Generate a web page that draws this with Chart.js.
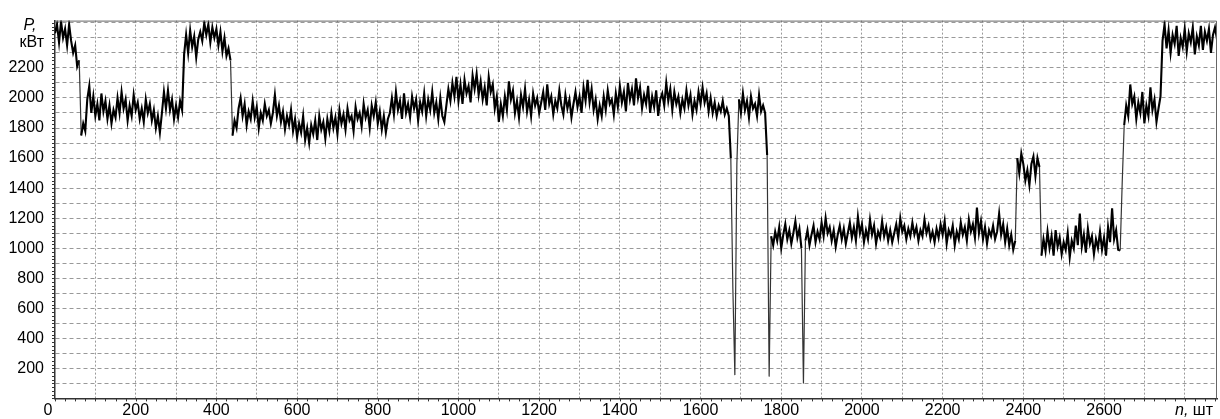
<!DOCTYPE html>
<html><head><meta charset="utf-8">
<script src="https://cdn.jsdelivr.net/npm/chart.js@4.4.1/dist/chart.umd.min.js"></script>
<style>html,body{margin:0;padding:0;background:#fff;}canvas{display:block;}</style>
</head><body>
<canvas id="c" width="1220" height="419"></canvas>
<script>
const STEP = 5;
const startA = 0;
const pA = [2430,2490,2370,2510,2400,2460,2350,2490,2380,2300,2350,2210,2250];
const startB = 65;
const pB = [1750,1830,1780,1990,2080,1900,2010,1880,1960,1850,
            2030,1910,1980,1860,1950,1830,1920,1870,2000,1900,
            2040,1930,1990,1850,1950,1880,2020,1920,1970,1860,
            1930,1840,1990,1900,1960,1850,1920,1800,1880,1770,
            1900,2040,1930,2050,1920,1990,1860,1950,1870,1980,
            1920];
const startC = 320;
const pC = [2290,2420,2300,2450,2340,2410,2270,2390,2440,2380,
            2500,2420,2490,2370,2470,2400,2460,2350,2440,2310,
            2400,2280,2330,2250];
const startD = 440;
const pD = [1750,1850,1800,1930,2000,1880,1960,1820,1910,1860,
            1980,1870,1940,1800,1900,1850,1960,1880,1920,1830,
            1900,2020,1880,1950,1840,1910,1790,1880,1820,1920,
            1780,1860,1740,1830,1770,1880,1720,1800,1700,1820,
            1760,1850,1720,1880,1790,1840,1730,1860,1780,1900,
            1800,1870,1760,1920,1830,1890,1790,1930,1850,1880,
            1780,1940,1860,1900,1810,1960,1870,1920,1800,1950,
            1880,1970,1830,1910,1790,1880,1770,1860,1900,2000,
            1890,2040,1920,1980,1860,2030,1900,1960,1870,2010,
            1930,1990,1850,1970,1910,2030,1880,1990,1920,2040,
            1900,1970,1860,2000,1880,1840,1950,2060,1980,2100,
            2010,2140,1980,2090,1960,2120,2030,2080,1970,2150,
            2060,2160,2020,2110,1990,2070,1950,2140,2040,2090,
            1930,2010,1840];
const startE = 1105;
const pE = [1960,1880,2010,1920,2110,1990,2050,1900,1980,1870,
            2020,1940,2060,1910,1990,1880,2030,1950,2000,1900,
            1970,2040,1920,2090,1960,2010,1890,1980,1930,2050,
            1950,1890,2020,1930,1990,1870,1960,2040,1940,2010,
            1900,2070,1980,2120,1970,2060,1920,1990,1860,1950,
            1880,2010,1920,2050,1960,1990,1890,2030,1940,2080,
            1970,2040,1910,2100,1990,2060,1950,2130,2000,2070,
            1930,2020,1960,2080,1900,2010,1940,2050,1880,1990,
            2030,1950,2100,1980,2060,1920,2040,1960,2010,1900,
            1990,1930,2050,1950,2020,1890,1980,1920,2040,1960,
            2070,1970,2030,1910,2000,1900,1970,1880,1950,1910,
            1980,1890,1930,1880];
const startDrop1 = 1675;
const pDrop1 = [1600,740,155,1560];
const startF = 1695;
const pF = [1990,1900,2030,1920,1980,1870,2010,1930,1960,1880,2020,1910,1950,1900];
const startDrop2 = 1765;
const pDrop2 = [1620,145];
const startG = 1775;
const pG = [1080,1020,1110,1050,1140,1000,1090,1160,1060,1120,
            1030,1100,1180,1070,1130,1000,100,1050,1120,1020,
            1090,1150,1040,1110,1060,1170,1080,1200,1100,1140,
            1050,1120,1010,1090,1150,1060,1130,1030,1100,1170,
            1070,1140,1050,1210,1100,1160,1040,1120,1060,1190,
            1090,1150,1030,1110,1070,1180,1080,1140,1050,1120,
            1040,1100,1160,1070,1200,1110,1150,1060,1130,1080,
            1170,1090,1140,1050,1120,1080,1190,1100,1150,1060,
            1110,1040,1130,1070,1160,1090,1180,1030,1120,1080,
            1150,1020,1110,1060,1170,1090,1140,1050,1190,1110,
            1160,1070,1270,1100,1180,1060,1140,1030,1120,1080,
            1150,1060,1110,1230,1090,1160,1040,1130,1020,1090,
            990,1050];
const startH = 2385;
const pH = [1600,1500,1630,1560,1450,1520,1420,1560,1610,1480,1600,1540];
const startI = 2445;
const pI = [950,1060,980,1110,1000,1080,950,1120,1010,1070,
            960,1040,990,1100,940,1050,1000,1150,1020,1230,
            1010,1090,970,1130,1030,1080,960,1060,1000,1110,
            990,1070,950,1140,1040,1265,1060,1120,990,985];
const startJ = 2645;
const pJ = [1430,1820,1950,1880,2090,1960,2010,1860,1970,1900,
            2040,1830,1950,1880,2070,1920,1990,1840,1930,2010];
const startK = 2745;
const pK = [2380,2490,2330,2450,2300,2420,2360,2480,2280,2400,
            2340,2460,2310,2430,2370,2470,2290,2410,2350,2480,
            2320,2440,2380,2460,2300,2420,2470,2390];

// ---- axis ranges & tick labels ----
const xMax = 2880;
const yMax = 2515;
const xTickLabels = [200,400,600,800,1000,1200,1400,1600,1800,2000,2200,2400,2600];
const yTickLabels = [200,400,600,800,1000,1200,1400,1600,1800,2000,2200];
const yTitle = ['P,', 'кВт'];
const xTitle = ['n,', ' шт'];

const segments = [[startA,pA],[startB,pB],[startC,pC],[startD,pD],[startE,pE],
  [startDrop1,pDrop1],[startF,pF],[startDrop2,pDrop2],[startG,pG],[startH,pH],
  [startI,pI],[startJ,pJ],[startK,pK]];
const points = [];
segments.forEach(([s, arr]) => arr.forEach((v, i) => points.push({x: s + STEP * i, y: v})));

const FONT = 'Liberation Sans';

const decor = {
  id: 'decor',
  afterDraw(chart) {
    const ctx = chart.ctx;
    const {left, right, top, bottom} = chart.chartArea;
    const xs = chart.scales.x, ys = chart.scales.y;
    ctx.save();
    // top & right frame
    ctx.strokeStyle = '#666'; ctx.lineWidth = 1;
    ctx.beginPath();
    ctx.moveTo(left, top + 0.5); ctx.lineTo(right - 0.5, top + 0.5); ctx.lineTo(right - 0.5, bottom);
    ctx.stroke();
    // minor ticks
    ctx.strokeStyle = '#333';
    ctx.beginPath();
    for (let v = 0; v <= xMax; v += 25) {
      const px = Math.round(xs.getPixelForValue(v)) + 0.5;
      ctx.moveTo(px, bottom); ctx.lineTo(px, bottom + 3);
    }
    for (let v = 0; v <= yMax; v += 25) {
      const py = Math.round(ys.getPixelForValue(v)) + 0.5;
      ctx.moveTo(left - 3, py); ctx.lineTo(left, py);
    }
    ctx.stroke();
    // captions
    ctx.fillStyle = '#000';
    ctx.textBaseline = 'middle';
    ctx.font = 'italic 16px "' + FONT + '"';
    ctx.textAlign = 'center';
    ctx.fillText(yTitle[0], left - 25, ys.getPixelForValue(2480));
    ctx.font = '16px "' + FONT + '"';
    ctx.textAlign = 'right';
    ctx.fillText(yTitle[1], left - 11, ys.getPixelForValue(2370));
    // origin label
    ctx.textAlign = 'center';
    ctx.fillText('0', xs.getPixelForValue(0) - 7, bottom + 12);
    // x title
    ctx.textAlign = 'right';
    const xr = right - 4;
    ctx.fillText(xTitle[1], xr, bottom + 12);
    const w = ctx.measureText(xTitle[1]).width;
    ctx.font = 'italic 16px "' + FONT + '"';
    ctx.fillText(xTitle[0], xr - w, bottom + 12);
    ctx.restore();
  }
};

const isJump = c => Math.abs(c.p0.parsed.y - c.p1.parsed.y) > 380;

new Chart(document.getElementById('c'), {
  type: 'line',
  data: { datasets: [{ data: points, borderColor: '#000', borderWidth: 2.1, pointRadius: 0, tension: 0, fill: false,
    segment: {
      borderWidth: c => isJump(c) ? 1.2 : undefined,
      borderColor: c => isJump(c) ? '#333' : undefined
    } }] },
  options: {
    responsive: false, animation: false, devicePixelRatio: 1, parsing: false,
    layout: { padding: { left: 0, right: 3, top: 13, bottom: 0 } },
    plugins: { legend: { display: false }, tooltip: { enabled: false } },
    scales: {
      x: {
        type: 'linear', min: 0, max: xMax,
        afterFit(s) { s.height = 20; },
        ticks: { stepSize: 100, includeBounds: false, autoSkip: false, maxRotation: 0, padding: 3, color: '#000',
          font: { family: FONT, size: 16 },
          callback: v => xTickLabels.includes(v) ? String(v) : '' },
        grid: { drawTicks: false, lineWidth: 1,
          color: c => (c.tick && c.tick.value > 0 && c.tick.value % 100 === 0) ? '#999' : 'rgba(0,0,0,0)' },
        border: { color: '#333', width: 1.5, dash: [2, 2] }
      },
      y: {
        type: 'linear', min: 0, max: yMax,
        afterFit(s) { s.width = 55; },
        ticks: { stepSize: 100, includeBounds: false, autoSkip: false, padding: 11, color: '#000',
          font: { family: FONT, size: 16 },
          callback: v => yTickLabels.includes(v) ? String(v) : '' },
        grid: { drawTicks: false, lineWidth: 1,
          color: c => (c.tick && c.tick.value > 0 && c.tick.value % 100 === 0) ? '#999' : 'rgba(0,0,0,0)' },
        border: { color: '#333', width: 1.5, dash: [4, 3] }
      }
    }
  },
  plugins: [decor]
});
</script>
</body></html>
